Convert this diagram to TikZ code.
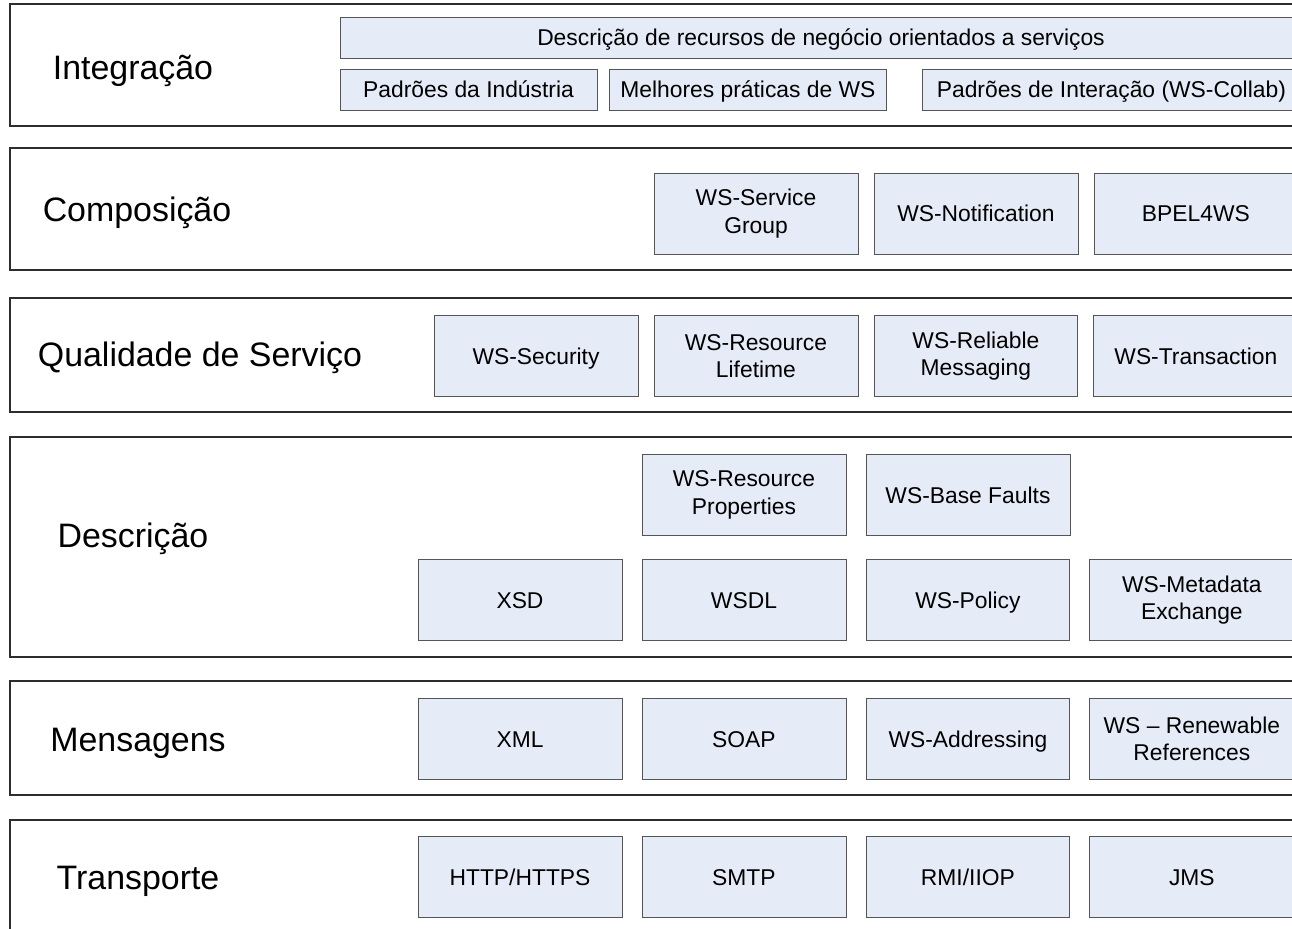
\documentclass[tikz,border=0pt]{standalone}
\usepackage{fontspec}
\setmainfont{Liberation Sans}
\usetikzlibrary{positioning}
\definecolor{boxfill}{RGB}{230,236,247}
\definecolor{boxline}{RGB}{85,85,85}
\definecolor{layerline}{RGB}{45,45,45}

\begin{document}
\begin{tikzpicture}[x=0.02cm,y=-0.02cm,node distance=0.4cm]

  \tikzstyle{layer}=[draw=layerline,line width=0.75pt];
  \tikzstyle{title}=[font=\fontsize{19.3}{23}\selectfont,inner sep=0pt,
    text height=14pt,text depth=4pt];
  \tikzstyle{spec}=[rectangle,draw=boxline,fill=boxfill,line width=0.5pt,
    minimum width=4.08cm,minimum height=1.62cm,align=center,
    font=\fontsize{13}{15.5}\selectfont,inner sep=2pt,outer sep=0pt];
  \tikzstyle{one}=[text height=10pt,text depth=0.6pt];
  \tikzstyle{band}=[spec,one,minimum height=0.82cm];

  \useasboundingbox (0,0) rectangle (1292,929);
  \clip (0,0) rectangle (1292,929);

  % camadas
  \draw[layer] (10,4)   rectangle (1330,126);
  \draw[layer] (10,148) rectangle (1330,270);
  \draw[layer] (10,298) rectangle (1330,412);
  \draw[layer] (10,437) rectangle (1330,657);
  \draw[layer] (10,681) rectangle (1330,795);
  \draw[layer] (10,820) rectangle (1330,960);

  \node[title] (integracao) at (133,71)  {Integração};
  \node[title] (composicao) at (137,213) {Composição};
  \node[title] (qualidade)  at (200,358) {Qualidade de Serviço};
  \node[title] (descricao)  at (133,539) {Descrição};
  \node[title] (mensagens)  at (138,743) {Mensagens};
  \node[title] (transporte) at (138,881) {Transporte};

  % integracao
  \node[band,minimum width=19.24cm] (recursos) at (821,37.5)
    {Descrição de recursos de negócio orientados a serviços};
  \node[band,minimum width=5.14cm] (industria) at (468.5,89.5) {Padrões da Indústria};
  \node[band,minimum width=5.56cm] (praticas) [right=0.24cm of industria] {Melhores práticas de WS};
  \node[band,minimum width=7.54cm] (collab) [right=0.72cm of praticas] {Padrões de Interação (WS-Collab)};

  % composicao
  \node[spec] (srvgroup) at (756,213.5) {WS-Service\\Group};
  \node[spec,one] (notif) [right=0.32cm of srvgroup] {WS-Notification};
  \node[spec,one] (bpel)  [right=0.32cm of notif] {BPEL4WS};

  % qualidade de servico
  \node[spec,one] (security) at (536,356) {WS-Security};
  \node[spec] (lifetime) [right=0.32cm of security] {WS-Resource\\Lifetime};
  \node[spec] (reliable) [right=0.32cm of lifetime] {WS-Reliable\\Messaging};
  \node[spec,one] (transact) [right=0.32cm of reliable] {WS-Transaction};

  % descricao
  \node[spec] (resprops) at (744,495) {WS-Resource\\Properties};
  \node[spec,one] (faults) [right=of resprops] {WS-Base Faults};
  \node[spec,one] (xsd)    at (520,600) {XSD};
  \node[spec,one] (wsdl)   [right=of xsd] {WSDL};
  \node[spec,one] (policy) [right=of wsdl] {WS-Policy};
  \node[spec] (metadata)   [right=of policy] {WS-Metadata\\Exchange};

  % mensagens
  \node[spec,one] (xml)     at (520,739) {XML};
  \node[spec,one] (soap)    [right=of xml] {SOAP};
  \node[spec,one] (address) [right=of soap] {WS-Addressing};
  \node[spec] (renew)       [right=of address] {WS -- Renewable\\References};

  % transporte
  \node[spec,one] (http) at (520,877) {HTTP/HTTPS};
  \node[spec,one] (smtp) [right=of http] {SMTP};
  \node[spec,one] (rmi)  [right=of smtp] {RMI/IIOP};
  \node[spec,one] (jms)  [right=of rmi] {JMS};

\end{tikzpicture}
\end{document}
